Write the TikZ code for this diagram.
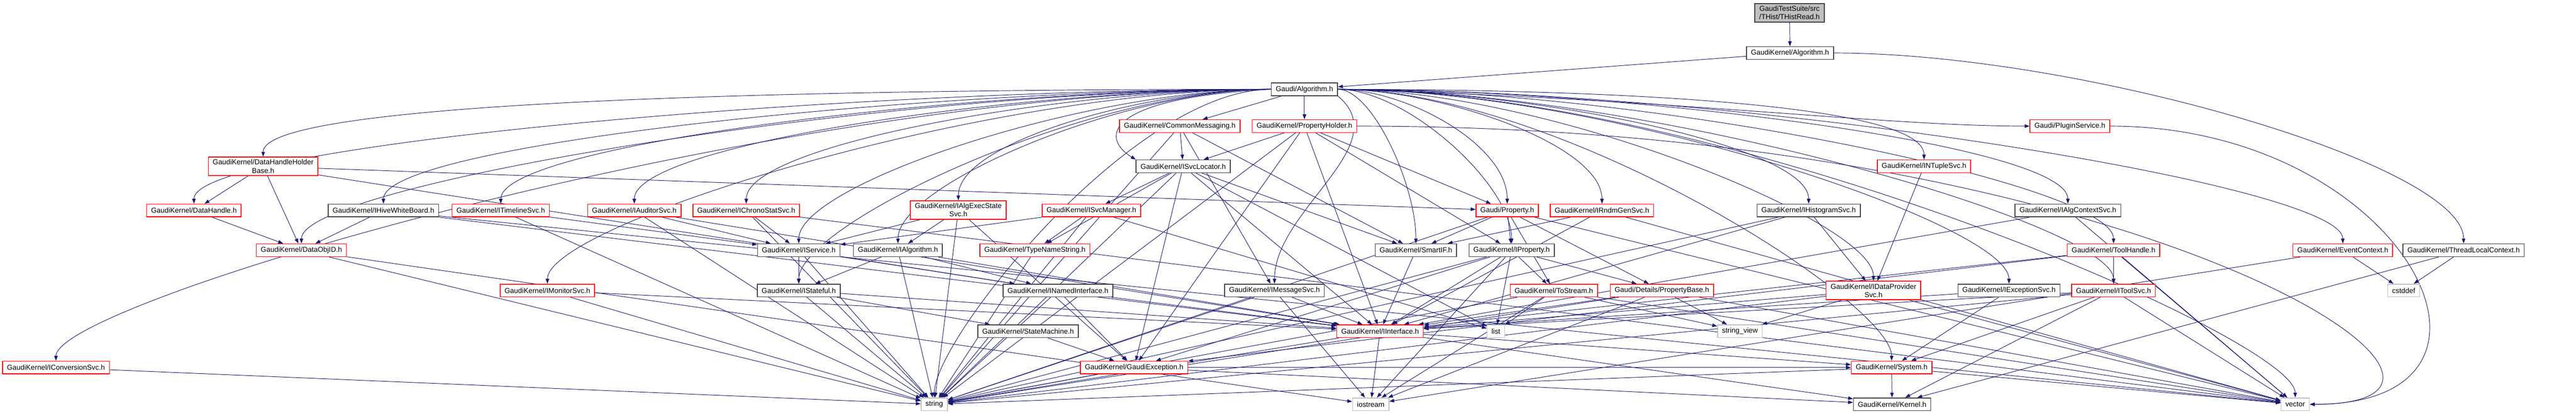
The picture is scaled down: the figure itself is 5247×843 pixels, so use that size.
\documentclass[tikz,border=0pt]{standalone}
\usepackage{fontspec}
\setmainfont{Liberation Sans}
\usetikzlibrary{arrows.meta,backgrounds}
\definecolor{edgeblue}{HTML}{191970}
\definecolor{boxred}{HTML}{FF0000}
\definecolor{boxgray}{HTML}{BFBFBF}
\definecolor{boxdark}{HTML}{404040}
\begin{document}
\begin{tikzpicture}[x=0.5pt,y=-0.5pt,
    hdr/.style={draw=boxdark, fill=white, line width=0.8pt, minimum height=13pt, inner xsep=4.5pt, inner ysep=2.5pt, font=\fontsize{7.3}{8.5}\selectfont, align=center},
    trunc/.style={hdr, draw=boxred},
    sys/.style={hdr, draw=boxgray},
    root/.style={hdr, fill=boxgray},
    dep/.style={draw=edgeblue, line width=0.5pt, -{Triangle[length=5pt,width=3.6pt]}},
]
\useasboundingbox (0,0) rectangle (5247,843);

% rows of headers, top to bottom
\node[root] (thist) at (3645,26) {GaudiTestSuite/src\\/THist/THistRead.h};
\node[hdr] (gkalg) at (3646,108) {GaudiKernel/Algorithm.h};
\node[hdr] (alg) at (2657,182) {Gaudi/Algorithm.h};

\node[trunc] (cmsg) at (2403,257) {GaudiKernel/CommonMessaging.h};
\node[trunc] (pholder) at (2657,257) {GaudiKernel/PropertyHolder.h};
\node[trunc] (plugin) at (4216,257) {Gaudi/PluginService.h};

\node[trunc] (dhhb) at (536,339) {GaudiKernel/DataHandleHolder\\Base.h};
\node[hdr] (svcloc) at (2410,339) {GaudiKernel/ISvcLocator.h};
\node[trunc] (ntuple) at (3919,339) {GaudiKernel/INTupleSvc.h};

\node[trunc] (dhandle) at (395,429) {GaudiKernel/DataHandle.h};
\node[hdr] (hive) at (781,429) {GaudiKernel/IHiveWhiteBoard.h};
\node[trunc] (timeline) at (1020,429) {GaudiKernel/ITimelineSvc.h};
\node[trunc] (auditor) at (1292,429) {GaudiKernel/IAuditorSvc.h};
\node[trunc] (chrono) at (1520,429) {GaudiKernel/IChronoStatSvc.h};
\node[trunc] (execstate) at (1952,428) {GaudiKernel/IAlgExecState\\Svc.h};
\node[trunc] (svcmgr) at (2223,429) {GaudiKernel/ISvcManager.h};
\node[trunc] (prop) at (3070,429) {Gaudi/Property.h};
\node[trunc] (rndm) at (3263,429) {GaudiKernel/IRndmGenSvc.h};
\node[hdr] (histo) at (3684,429) {GaudiKernel/IHistogramSvc.h};
\node[hdr] (algctx) at (4212,429) {GaudiKernel/IAlgContextSvc.h};

\node[trunc] (doid) at (614,510) {GaudiKernel/DataObjID.h};
\node[hdr] (iservice) at (1627,510) {GaudiKernel/IService.h};
\node[hdr] (ialg) at (1829,510) {GaudiKernel/IAlgorithm.h};
\node[trunc] (typename) at (2108,510) {GaudiKernel/TypeNameString.h};
\node[hdr] (smartif) at (2884,510) {GaudiKernel/SmartIF.h};
\node[hdr] (iprop) at (3079,510) {GaudiKernel/IProperty.h};
\node[trunc] (toolhandle) at (4305,510) {GaudiKernel/ToolHandle.h};
\node[trunc] (evctx) at (4772,510) {GaudiKernel/EventContext.h};
\node[hdr] (tlctx) at (5018,510) {GaudiKernel/ThreadLocalContext.h};

\node[trunc] (monitor) at (1115,592) {GaudiKernel/IMonitorSvc.h};
\node[hdr] (istateful) at (1627,592) {GaudiKernel/IStateful.h};
\node[hdr] (named) at (2155,592) {GaudiKernel/INamedInterface.h};
\node[hdr] (msgsvc) at (2596,592) {GaudiKernel/IMessageSvc.h};
\node[trunc] (tostream) at (3165,592) {GaudiKernel/ToStream.h};
\node[trunc] (propbase) at (3385,592) {Gaudi/Details/PropertyBase.h};
\node[trunc] (dataprov) at (3816,592) {GaudiKernel/IDataProvider\\Svc.h};
\node[hdr] (excsvc) at (4092,592) {GaudiKernel/IExceptionSvc.h};
\node[trunc] (toolsvc) at (4305,592) {GaudiKernel/IToolSvc.h};
\node[sys] (cstddef) at (4896,592) {cstddef};

\node[hdr] (statemach) at (2094,675) {GaudiKernel/StateMachine.h};
\node[trunc] (iiface) at (2811,675) {GaudiKernel/IInterface.h};
\node[sys] (list) at (3047,675) {list};
\node[sys] (strview) at (3544,675) {string\_view};

\node[trunc] (convsvc) at (114,749) {GaudiKernel/IConversionSvc.h};
\node[trunc] (gexc) at (2310,749) {GaudiKernel/GaudiException.h};
\node[trunc] (system) at (3853,749) {GaudiKernel/System.h};

\node[sys] (string) at (1903,824) {string};
\node[sys] (iostream) at (2792,824) {iostream};
\node[hdr] (kernel) at (3854,824) {GaudiKernel/Kernel.h};
\node[sys] (vector) at (4675,824) {vector};

\begin{scope}[on background layer]
% edges out of Gaudi/Algorithm.h
\foreach \t/\d in {convsvc/1000, dhandle/880, dhhb/820, hive/720, doid/790, timeline/630,
    monitor/590, auditor/520, chrono/430, iservice/380, istateful/380, ialg/300,
    execstate/250, string/280}
  \draw[dep] (alg.west) .. controls +(-\d,0) and +(0,-120) .. (\t.north);
\draw[dep] (alg.west) .. controls (2250,200) and (2240,280) .. (svcloc.north west);
\draw[dep] (alg) -- (cmsg);
\draw[dep] (alg) -- (pholder);
\draw[dep] (alg.south east) .. controls +(120,100) and +(0,-150) .. (msgsvc.north);
\foreach \t/\d in {smartif/70, iprop/140, prop/140, rndm/210, histo/380, ntuple/480,
    algctx/590, excsvc/550, toolhandle/630, toolsvc/630, dataprov/430, evctx/820,
    system/450, vector/780}
  \draw[dep] (alg.east) .. controls +(\d,0) and +(0,-120) .. (\t.north);
\draw[dep] (alg.east) .. controls +(700,20) and +(-300,0) .. (plugin.west);

% the other includes
\draw[dep] (thist) -- (gkalg);
\draw[dep] (gkalg) -- (alg);
\draw[dep] (gkalg.east) .. controls +(500,0) and +(0,-160) .. (tlctx.north);
\draw[dep] (pholder.east) .. controls +(1600,0) and +(500,0) .. (vector.east);
\draw[dep] (plugin.east) .. controls +(600,0) and +(480,0) .. (vector.east);

\foreach \a/\b in {cmsg/svcloc, cmsg/msgsvc, cmsg/smartif, cmsg/string,
    pholder/svcloc, pholder/iprop, pholder/prop, pholder/gexc, pholder/iiface, pholder/string,
    dhhb/dhandle, dhhb/doid, dhhb/named, dhhb/prop,
    dhandle/doid, hive/doid, hive/iiface, hive/vector,
    doid/string, doid/iostream, convsvc/string,
    timeline/iservice, timeline/string,
    auditor/iservice, auditor/string, auditor/iiface,
    chrono/iservice, chrono/string, chrono/vector,
    monitor/iiface, monitor/string,
    execstate/ialg, execstate/iservice, execstate/gexc, execstate/string,
    svcmgr/typename, svcmgr/iservice, svcmgr/string, svcmgr/list,
    svcloc/svcmgr, svcloc/typename, svcloc/iiface, svcloc/smartif, svcloc/gexc, svcloc/string, svcloc/list,
    iservice/istateful, iservice/named, iservice/string,
    istateful/statemach, istateful/iiface, istateful/string,
    ialg/named, ialg/istateful, ialg/string, ialg/iiface,
    typename/string, named/gexc, named/iiface, named/string, statemach/gexc,
    gexc/string, gexc/system, gexc/kernel,
    msgsvc/iiface, msgsvc/iostream, msgsvc/string, smartif/iiface,
    prop/smartif, prop/iprop, prop/tostream, prop/propbase, prop/string, prop/vector,
    rndm/smartif, rndm/iiface, rndm/vector,
    iprop/iiface, iprop/tostream, iprop/propbase, iprop/iostream, iprop/string, iprop/list, iprop/gexc,
    tostream/list, tostream/iostream, tostream/string, tostream/vector, tostream/strview,
    propbase/iiface, propbase/string, propbase/strview, propbase/vector, propbase/iostream,
    iiface/system, iiface/kernel, iiface/string, iiface/iostream,
    system/kernel, system/string, system/vector,
    histo/dataprov, histo/iiface, histo/string, ntuple/dataprov,
    dataprov/strview, dataprov/iiface, dataprov/string, dataprov/vector,
    excsvc/system, excsvc/iiface, algctx/vector, algctx/iiface,
    toolhandle/toolsvc, toolhandle/iiface, toolhandle/gexc, toolhandle/vector,
    toolsvc/system, toolsvc/kernel, toolsvc/iiface, toolsvc/string, toolsvc/vector,
    evctx/cstddef, evctx/iostream, tlctx/cstddef, tlctx/kernel}
  \draw[dep] (\a) -- (\b);
\end{scope}
\end{tikzpicture}
\end{document}
